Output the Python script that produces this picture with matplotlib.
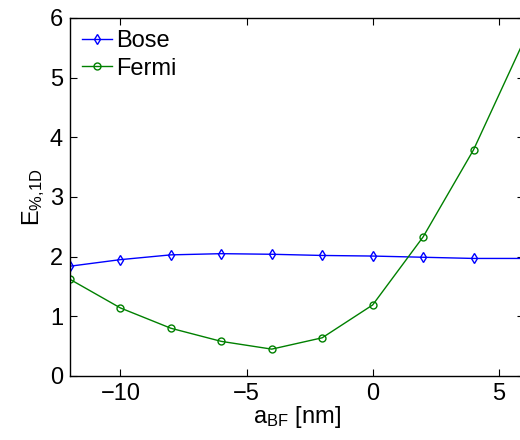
import matplotlib
matplotlib.use('Agg')
import matplotlib.pyplot as plt

plt.rcParams['font.family'] = ['Liberation Sans', 'DejaVu Sans']
plt.rcParams['mathtext.default'] = 'regular'

# scattering length a_BF [nm]
a_bf = [-12, -10, -8, -6, -4, -2, 0, 2, 4, 6]
bose = [1.84, 1.95, 2.03, 2.05, 2.04, 2.02, 2.01, 1.99, 1.97, 1.97]
fermi = [1.62, 1.14, 0.80, 0.58, 0.45, 0.64, 1.19, 2.33, 3.79, 5.62]

fig = plt.figure(figsize=(5.2, 4.4), dpi=100)
ax = fig.add_axes([0.1346, 0.1455, 0.873, 0.8136])

ax.plot(a_bf, bose, color='#0000ff', marker='d', markersize=5,
        markerfacecolor='none', linewidth=1.0, label='Bose')
ax.plot(a_bf, fermi, color='#008000', marker='o', markersize=5,
        markerfacecolor='none', linewidth=1.0, label='Fermi')

ax.set_xlim(-12, 6)
ax.set_ylim(0, 6)
ax.set_xticks([-10, -5, 0, 5])
ax.set_xticklabels(['\u221210', '\u22125', '0', '5'])
ax.set_yticks(range(7))
ax.tick_params(direction='in', length=5, width=0.8, labelsize=17,
               top=True, right=True, pad=5)
for s in ax.spines.values():
    s.set_linewidth(1.0)

ax.set_xlabel(r'a$_{BF}$ [nm]', fontsize=17, labelpad=-1)
ax.set_ylabel(r'E$_{\%{,}1D}$', fontsize=17, labelpad=2)

ax.legend(loc='upper left', frameon=False, fontsize=17, handlelength=1.3,
          handletextpad=0.15, labelspacing=0.25, borderaxespad=0.3,
          borderpad=0.2)

fig.savefig('out.png', dpi=100)
